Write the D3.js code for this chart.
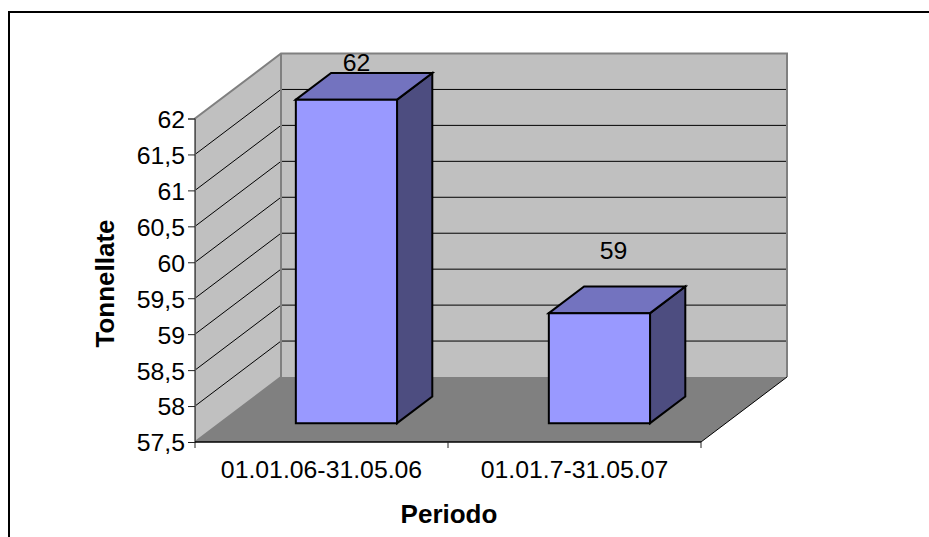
<!DOCTYPE html>
<html><head><meta charset="utf-8">
<script src="https://cdn.jsdelivr.net/npm/d3@7"></script>
<style>html,body{margin:0;padding:0;background:#fff}svg{display:block}
text{font-family:"Liberation Sans",Arial,sans-serif;fill:#000}</style></head>
<body><script>
const categories = ["01.01.06-31.05.06", "01.01.7-31.05.07"];
const values = [62, 59.03];
const yTicks = [57.5, 58, 58.5, 59, 59.5, 60, 60.5, 61, 61.5, 62];
const xTitle = "Periodo";
const yTitle = "Tonnellate";

const W = 929, H = 537;
const svg = d3.select("body").append("svg").attr("width", W).attr("height", H);
const y = d3.scaleLinear().domain([57.5, 62]).range([442, 118.5]);
const x = d3.scaleBand().domain(categories).range([195, 701]).paddingInner(0.6).paddingOuter(0.3);
const dx = d3.scaleLinear().domain([0, 1]).range([0, 86]);
const dy = d3.scaleLinear().domain([0, 1]).range([0, -65]);
const pt = (px, py, d) => [px + dx(d), py + dy(d)];
const poly = ps => "M" + ps.map(p => p.join(",")).join("L") + "Z";
const [y0, y1] = y.range(), [x0, x1] = x.range();

// frame
svg.append("path").attr("d", `M9,${H}V12H${W}`).attr("fill", "none").attr("stroke", "#000").attr("stroke-width", 2);

// walls and floor
svg.append("path").attr("d", poly([pt(x0, y1, 0), pt(x0, y1, 1), pt(x0, y0, 1), pt(x0, y0, 0)])).attr("fill", "#c0c0c0");
svg.append("path").attr("d", poly([pt(x0, y1, 1), pt(x1, y1, 1), pt(x1, y0, 1), pt(x0, y0, 1)])).attr("fill", "#c0c0c0");
svg.append("path").attr("d", poly([pt(x0, y0, 0), pt(x0, y0, 1), pt(x1, y0, 1), pt(x1, y0, 0)])).attr("fill", "#808080");

// gridlines
const inner = yTicks.filter(t => t !== 57.5 && t !== 62);
svg.append("g").selectAll("path").data(inner).join("path")
  .attr("d", t => "M" + pt(x0, y(t), 0) + "L" + pt(x0, y(t), 1) + "L" + pt(x1, y(t), 1))
  .attr("fill", "none").attr("stroke", "#000").attr("stroke-width", 1);

// wall outlines
svg.append("path")
  .attr("d", "M" + pt(x0, y0, 0) + "L" + pt(x0, y1, 0) + "L" + pt(x0, y1, 1) + "L" + pt(x1, y1, 1) + "L" + pt(x1, y0, 1) + "M" + pt(x0, y1, 1) + "L" + pt(x0, y0, 1) + "L" + pt(x0, y0, 0))
  .attr("fill", "none").attr("stroke", "#808080").attr("stroke-width", 2);
svg.append("path").attr("d", "M" + pt(x1, y0, 0) + "L" + pt(x1, y0, 1)).attr("stroke", "#000").attr("stroke-width", 1);

// bars
const d0 = 0.29, d1 = 0.70;
const bars = svg.append("g").selectAll("g").data(categories.map((c, i) => ({ c, v: values[i] }))).join("g")
  .attr("stroke", "#000").attr("stroke-width", 2).attr("stroke-linejoin", "miter");
const L = d => x(d.c), R = d => x(d.c) + x.bandwidth();
bars.append("path").attr("fill", "#4d4d80")
  .attr("d", d => poly([pt(R(d), y(d.v), d0), pt(R(d), y(d.v), d1), pt(R(d), y0, d1), pt(R(d), y0, d0)]));
bars.append("path").attr("fill", "#7373bf")
  .attr("d", d => poly([pt(L(d), y(d.v), d0), pt(L(d), y(d.v), d1), pt(R(d), y(d.v), d1), pt(R(d), y(d.v), d0)]));
bars.append("path").attr("fill", "#9999ff")
  .attr("d", d => poly([pt(L(d), y(d.v), d0), pt(R(d), y(d.v), d0), pt(R(d), y0, d0), pt(L(d), y0, d0)]));

// data labels
svg.append("g").selectAll("text").data(categories.map((c, i) => ({ c, v: values[i] }))).join("text")
  .attr("x", (d, i) => pt(x(d.c) + x.bandwidth() / 2, 0, d0)[0] + [10, 14][i])
  .attr("y", (d, i) => [71, 259][i])
  .attr("text-anchor", "middle").attr("font-size", 24.8).text(d => d3.format(".0f")(d.v));

// axes
const commaFmt = d3.formatLocale({ decimal: ",", thousands: ".", grouping: [3], currency: ["", ""] }).format("~g");
const ay = svg.append("g").attr("transform", `translate(${x0},0)`)
  .call(d3.axisLeft(y).tickValues(yTicks).tickFormat(commaFmt).tickSize(7).tickPadding(3));
ay.select(".domain").attr("stroke", "#555").attr("stroke-width", 1);
ay.selectAll(".tick line").attr("stroke", "#222");
ay.selectAll("text").attr("font-size", 24.8).attr("font-family", '"Liberation Sans"').attr("fill", "#000").attr("y", 1);

const ax = svg.append("g").attr("transform", `translate(0,${y0})`)
  .call(d3.axisBottom(x).tickSize(0).tickPadding(18));
ax.select(".domain").attr("stroke", "#000").attr("stroke-width", 1.5).attr("d", `M${x0},0H${x1}`);
ax.selectAll("text").attr("font-size", 24.8).attr("font-family", '"Liberation Sans"').attr("fill", "#000");
const step = x.step();
svg.append("g").selectAll("line").data([0, 1, 2]).join("line")
  .attr("x1", i => x0 + i * step).attr("x2", i => x0 + i * step)
  .attr("y1", y0).attr("y2", y0 + 6).attr("stroke", "#222").attr("stroke-width", 1);

// titles
svg.append("text").attr("x", 449).attr("y", 523).attr("text-anchor", "middle")
  .attr("font-size", 26).attr("font-weight", "bold").text(xTitle);
svg.append("text").attr("transform", "translate(114,283.5) rotate(-90)").attr("text-anchor", "middle")
  .attr("font-size", 26).attr("font-weight", "bold").text(yTitle);
</script></body></html>
